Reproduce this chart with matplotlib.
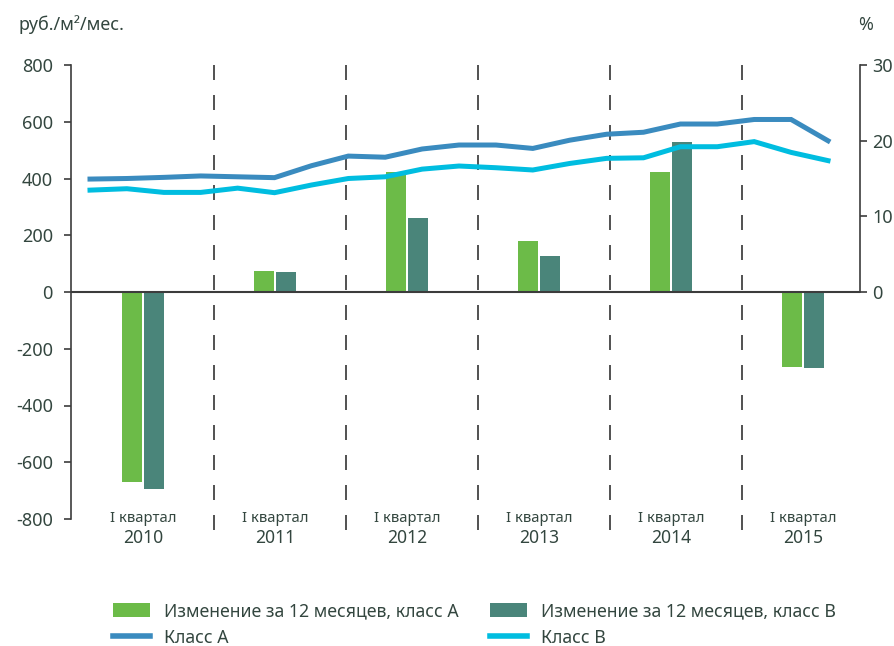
import numpy as np
import matplotlib
matplotlib.use("Agg")
import matplotlib.pyplot as plt
from matplotlib.patches import Patch
from matplotlib.lines import Line2D
from matplotlib.transforms import blended_transform_factory

plt.rcParams['font.family'] = ['Noto Sans', 'DejaVu Sans']
plt.rcParams['axes.unicode_minus'] = False

# === ДАННЫЕ ===
years = ["2010", "2011", "2012", "2013", "2014", "2015"]
quarter_label = "I квартал"

# изменение за 12 месяцев, % (правая ось)
change_a = [-25.1, 2.8, 15.8, 6.7, 15.8, -9.9]
change_b = [-26.1, 2.7, 9.8, 4.8, 19.8, -10.0]

# ставки, руб./м²/мес., поквартально I кв. 2010 - I кв. 2015
rent_a = [398, 400, 404, 409, 406, 403, 445, 479, 475, 504, 518,
          518, 506, 535, 556, 563, 592, 592, 608, 608, 533]
rent_b = [359, 364, 351, 351, 366, 350, 377, 400, 406, 433, 444,
          438, 430, 453, 471, 473, 512, 512, 530, 492, 463]

left_ticks = [-800, -600, -400, -200, 0, 200, 400, 600, 800]
right_ticks = [0, 10, 20, 30]

# === ЦВЕТА ===
col_a = "#6cbb48"
col_b = "#4a857a"
col_line_a = "#3a8bbf"
col_line_b = "#00bde0"
txt = "#33463f"
spine = "#3c3c3c"

fig = plt.figure(figsize=(8.94, 6.46), dpi=100)
ax = fig.add_axes([71 / 894, 1 - 519 / 646, 789 / 894, 454 / 646])

x = np.arange(len(years))
ax.set_xlim(-0.545, 5.432)
ax.set_ylim(-800, 800)
ax.set_yticks(left_ticks)
ax.set_xticks([])
for s in ["top", "right", "bottom"]:
    ax.spines[s].set_visible(False)
ax.spines["left"].set_color(spine)
ax.spines["left"].set_linewidth(1.2)
ax.tick_params(axis="y", direction="out", length=5, width=1.2, color=spine,
               labelsize=13, labelcolor=txt, pad=8)

# разделители лет
for d in x[:-1] + 0.535:
    ax.plot([d, d], [800, -850], color="#333333", lw=1.2,
            linestyle=(0, (9, 9)), clip_on=False, zorder=1)

# подписи категорий
tr = blended_transform_factory(ax.transData, ax.transAxes)
for i, y in enumerate(years):
    ax.text(i, 0.002, quarter_label, transform=tr, ha="center", va="center",
            fontsize=10.7, color=txt)
    ax.text(i, -0.042, y, transform=tr, ha="center", va="center",
            fontsize=12.6, color=txt)

# столбцы (правая ось, %)
axr = ax.twinx()
axr.set_ylim(-30, 30)
axr.set_yticks(right_ticks)
for s in ["top", "left", "bottom"]:
    axr.spines[s].set_visible(False)
axr.spines["right"].set_bounds(0, 30)
axr.spines["right"].set_color(spine)
axr.spines["right"].set_linewidth(1.2)
axr.tick_params(axis="y", direction="out", length=5, width=1.2, color=spine,
                labelsize=13, labelcolor=txt, pad=4)
w = 0.152
axr.bar(x - 0.083, change_a, width=w, color=col_a, zorder=2)
axr.bar(x + 0.083, change_b, width=w, color=col_b, zorder=2)
axr.axhline(0, color=spine, lw=1.5, zorder=3)

# линии (левая ось, руб.)
axl = ax.twiny()
q = np.arange(len(rent_a))
axl.set_xlim(-0.515, 20.867)
axl.plot(q, rent_a, color=col_line_a, lw=3.6, solid_joinstyle="miter")
axl.plot(q, rent_b, color=col_line_b, lw=3.6, solid_joinstyle="miter")
axl.set_xticks([])
for s in axl.spines.values():
    s.set_visible(False)

fig.text(18 / 894, 1 - 25 / 646, "руб./м²/мес.", fontsize=12.9, color=txt,
         ha="left", va="center")
fig.text(866 / 894, 1 - 25 / 646, "%", fontsize=12.9, color=txt,
         ha="center", va="center")

handles = [Patch(facecolor=col_a), Line2D([], [], color=col_line_a, lw=4),
           Patch(facecolor=col_b), Line2D([], [], color=col_line_b, lw=4)]
labels = ["Изменение за 12 месяцев, класс A", "Класс A",
          "Изменение за 12 месяцев, класс B", "Класс B"]
fig.legend(handles, labels, ncol=2, loc="upper left",
           bbox_to_anchor=(113 / 894, 1 - 602 / 646), frameon=False,
           fontsize=12.7, labelcolor=txt, handlelength=2.1, handleheight=0.85,
           handletextpad=0.8, columnspacing=1.75, labelspacing=0.5,
           borderpad=0, borderaxespad=0)

fig.savefig("out.png", dpi=100)
